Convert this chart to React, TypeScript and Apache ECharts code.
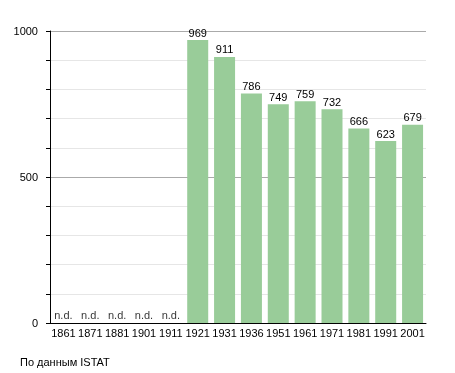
import React, { useEffect, useRef } from "react";
import * as echarts from "echarts";

const years = ["1861", "1871", "1881", "1901", "1911", "1921", "1931", "1936", "1951", "1961", "1971", "1981", "1991", "2001"];
const population: (number | null)[] = [null, null, null, null, null, 969, 911, 786, 749, 759, 732, 666, 623, 679];
const noDataMarks: (number | null)[] = [0, 0, 0, 0, 0, null, null, null, null, null, null, null, null, null];
const yTicks = [0, 500, 1000];
const sourceText = "По данным ISTAT";

const FONT = "'Liberation Sans', Arial, sans-serif";

export default function App() {
  const ref = useRef<HTMLDivElement>(null);
  useEffect(() => {
    if (!ref.current) return;
    const chart = echarts.init(ref.current, undefined, { renderer: "svg" });
    chart.setOption({
      animation: false,
      textStyle: { fontFamily: FONT },
      grid: { left: 50, right: 29, top: 31, bottom: 50 },
      xAxis: {
        type: "category",
        data: years,
        axisLine: { show: true, lineStyle: { color: "#000", width: 1 } },
        axisTick: { show: false },
        axisLabel: { color: "#000", fontSize: 11, fontFamily: FONT, margin: 4, interval: 0 },
      },
      yAxis: {
        type: "value",
        min: yTicks[0],
        max: yTicks[yTicks.length - 1],
        interval: 500,
        axisLine: { show: true, lineStyle: { color: "#000", width: 1 } },
        axisTick: { show: true, length: 4, lineStyle: { color: "#000" } },
        minorTick: { show: true, splitNumber: 5, length: 4, lineStyle: { color: "#000" } },
        axisLabel: {
          color: "#000",
          fontSize: 11,
          fontFamily: FONT,
          margin: 12,
          formatter: (v: number) => String(v),
        },
        splitLine: { show: true, lineStyle: { color: "#aaaaaa", width: 1 } },
        minorSplitLine: { show: true, lineStyle: { color: "#e6e6e6", width: 1 } },
      },
      series: [
        {
          type: "bar",
          data: population,
          barWidth: 21,
          itemStyle: { color: "#99cc99" },
          label: { show: true, position: "top", distance: 2, color: "#000", fontSize: 11, fontFamily: FONT },
          z: 3,
        },
        {
          type: "scatter",
          data: noDataMarks,
          symbolSize: 0,
          label: {
            show: true,
            position: "top",
            distance: 3,
            formatter: () => "n.d.",
            color: "#000",
            fontSize: 11,
            fontFamily: FONT,
          },
          z: 4,
        },
      ],
      graphic: [
        {
          type: "text",
          left: 20,
          top: 356,
          style: { text: sourceText, fill: "#000", fontSize: 11, fontFamily: FONT },
        },
      ],
    });
    return () => chart.dispose();
  }, []);
  return <div ref={ref} style={{ width: 455, height: 373, position: "fixed", left: 0, top: 0 }} />;
}
